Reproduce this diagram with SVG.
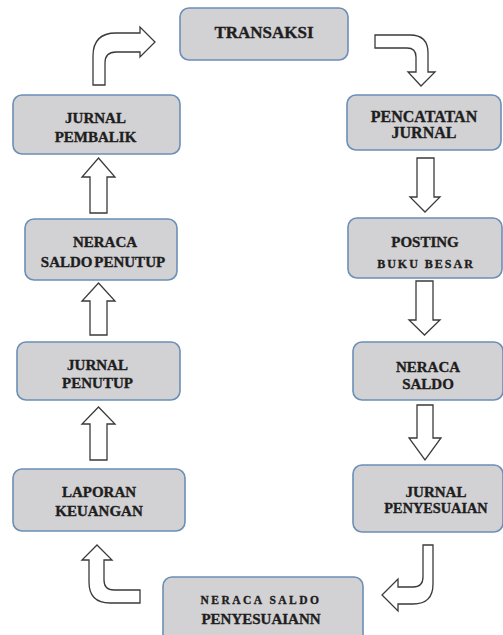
<svg xmlns="http://www.w3.org/2000/svg" width="503" height="635" viewBox="0 0 503 635">
<style>
.box{fill:#d2d1d3;stroke:#6b8fb6;stroke-width:1.6}
.t{font-family:"Liberation Serif","Times New Roman",serif;font-weight:bold;font-size:15px;fill:#1e1e1e;stroke:#1e1e1e;stroke-width:0.35;text-anchor:middle}
.s{font-size:11.5px;letter-spacing:2.5px}
.arr{fill:#ffffff;stroke:#3a3a3a;stroke-width:1.3;stroke-linejoin:miter}
</style>
<rect width="503" height="635" fill="#ffffff"/>
<g id="connectors">
  <path class="arr" d="M93,85 L93,56 Q93,33 116,33 L140,33 L140,27 L155,42 L140,57 L140,52 L116,52 Q105,52 105,63 L105,85 Z"/>
  <path class="arr" d="M375,35 L410,35 Q428,35 428,53 L428,72 L435,72 L421,86 L408,72 L416,72 L416,57 Q416,48 407,48 L375,48 Z"/>
  <path class="arr" d="M417,158 L434,158 L434,197 L440,197 L425,212 L410,197 L417,197 Z"/>
  <path class="arr" d="M416,281 L433,281 L433,320 L440,320 L424.5,335 L409,320 L416,320 Z"/>
  <path class="arr" d="M417,405 L433,405 L433,438 L441,438 L425,460 L409,438 L417,438 Z"/>
  <path class="arr" d="M423,545 L433,545 L433,584 Q433,604 413,604 L398,604 L398,611 L382,595 L398,579 L398,587 L413,587 Q423,587 423,577 Z"/>
  <path class="arr" d="M97,545 L112,560 L104,560 L104,580 Q104,590 114,590 L140,590 L140,603 L110,603 Q89,603 89,582 L89,560 L82,560 Z"/>
  <path class="arr" d="M98.5,407 L115,424 L107,424 L107,460 L90,460 L90,424 L82,424 Z"/>
  <path class="arr" d="M98.5,283 L115,301 L107,301 L107,335 L90,335 L90,301 L82,301 Z"/>
  <path class="arr" d="M98.5,158 L115,177 L107,177 L107,213 L90,213 L90,177 L82,177 Z"/>
</g>
<g id="transaksi">
  <rect class="box" x="180" y="8" width="168" height="52" rx="9"/>
  <text class="t" x="264" y="38" style="font-size:17px">TRANSAKSI</text>
</g>
<g id="pencatatan-jurnal">
  <rect class="box" x="347" y="95" width="154" height="55" rx="9"/>
  <text class="t" x="424" y="122" style="font-size:16px">PENCATATAN</text>
  <text class="t" x="424" y="138" style="font-size:16px">JURNAL</text>
</g>
<g id="posting-buku-besar">
  <rect class="box" x="348" y="218" width="154" height="60" rx="9"/>
  <text class="t" x="425" y="247">POSTING</text>
  <text class="t s" x="426" y="268" style="font-size:12px;letter-spacing:2px">BUKU BESAR</text>
</g>
<g id="neraca-saldo">
  <rect class="box" x="353" y="342" width="150" height="58" rx="9"/>
  <text class="t" x="428" y="372">NERACA</text>
  <text class="t" x="428" y="389">SALDO</text>
</g>
<g id="jurnal-penyesuaian">
  <rect class="box" x="353" y="465" width="150" height="67" rx="9"/>
  <text class="t" x="436" y="497">JURNAL</text>
  <text class="t" x="436" y="513" style="font-size:14.3px">PENYESUAIAN</text>
</g>
<g id="neraca-saldo-penyesuaian">
  <rect class="box" x="163" y="577" width="200" height="70" rx="9"/>
  <text class="t s" x="261" y="604">NERACA SALDO</text>
  <text class="t" x="261" y="624">PENYESUAIANN</text>
</g>
<g id="laporan-keuangan">
  <rect class="box" x="13" y="469" width="172" height="62" rx="9"/>
  <text class="t" x="99" y="497">LAPORAN</text>
  <text class="t" x="99" y="516">KEUANGAN</text>
</g>
<g id="jurnal-penutup">
  <rect class="box" x="17" y="342" width="163" height="58" rx="9"/>
  <text class="t" x="97.5" y="370">JURNAL</text>
  <text class="t" x="97.5" y="388">PENUTUP</text>
</g>
<g id="neraca-saldo-penutup">
  <rect class="box" x="25" y="219" width="152" height="61" rx="9"/>
  <text class="t" x="105" y="247">NERACA</text>
  <text class="t" x="103" y="267" style="word-spacing:-2px">SALDO PENUTUP</text>
</g>
<g id="jurnal-pembalik">
  <rect class="box" x="13" y="95" width="167" height="59" rx="9"/>
  <text class="t" x="95.5" y="123">JURNAL</text>
  <text class="t" x="95.5" y="142">PEMBALIK</text>
</g>
</svg>
